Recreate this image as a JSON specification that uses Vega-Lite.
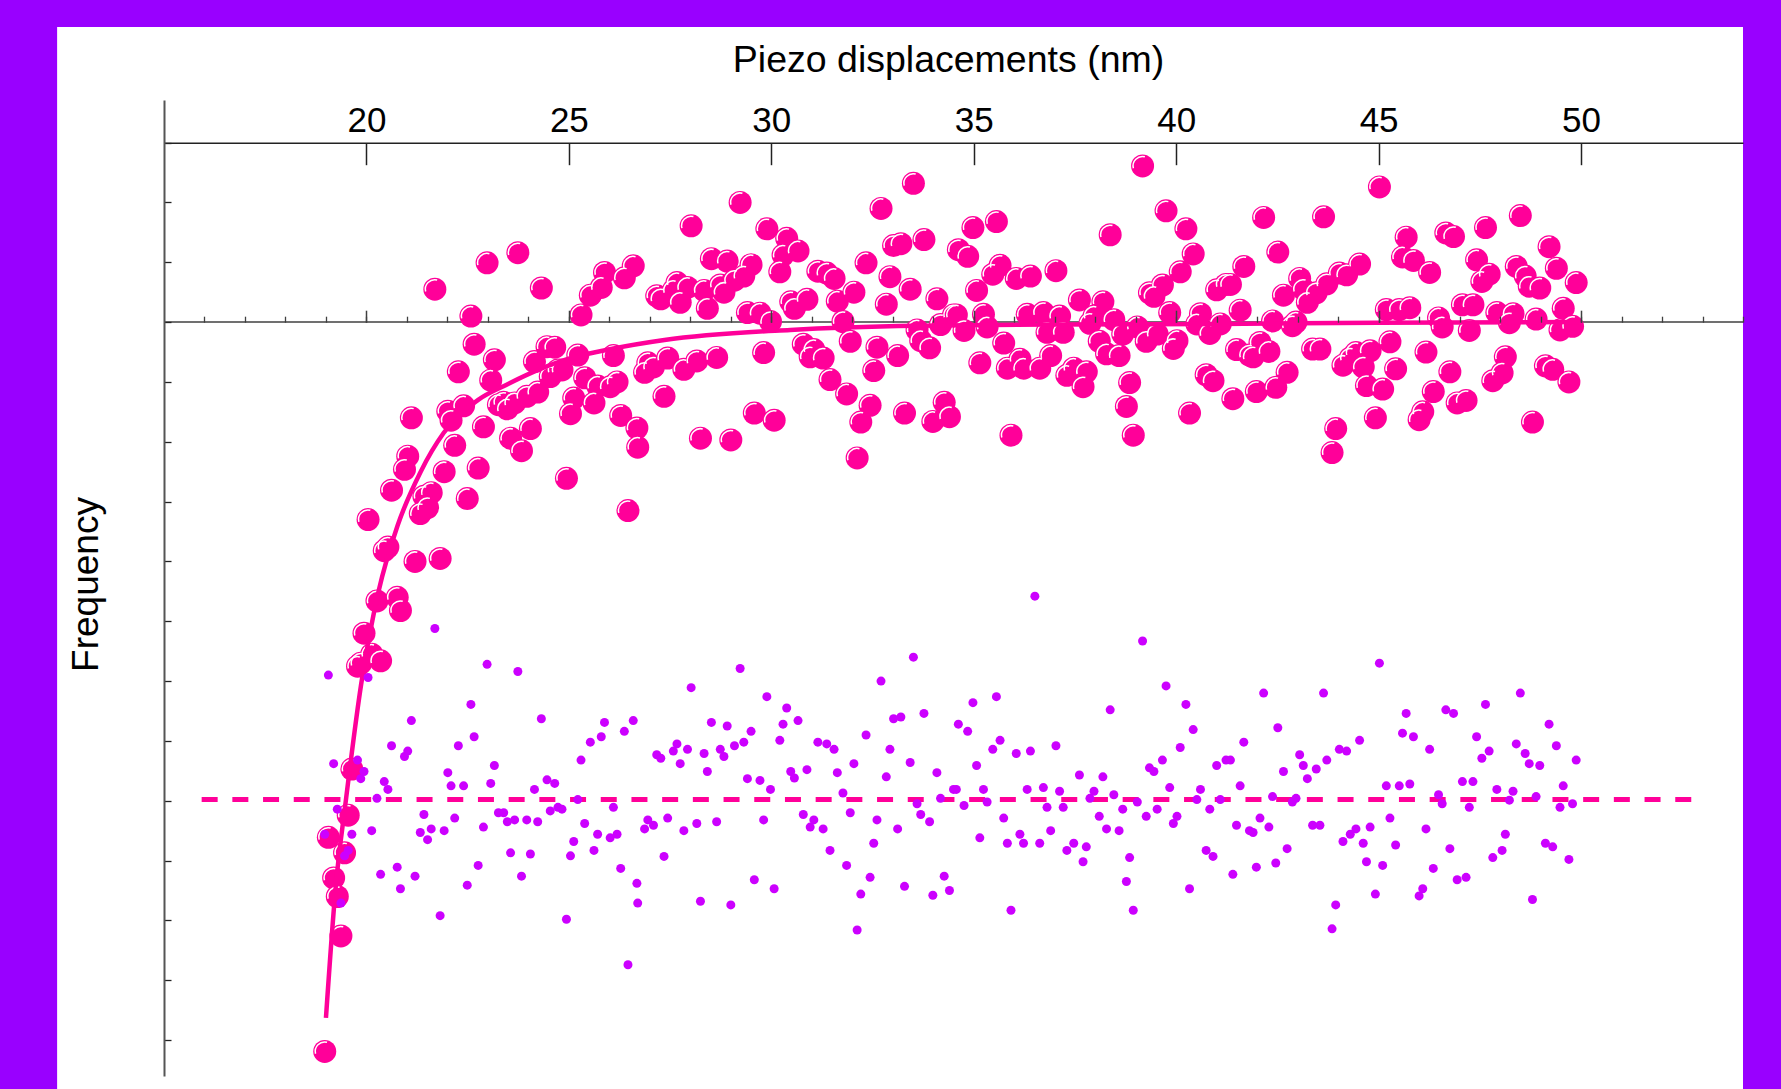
{
  "$schema": "https://vega.github.io/schema/vega-lite/v6.json",
  "width": 1579,
  "height": 976,
  "autosize": {"type": "none"},
  "padding": {"left": 164, "top": 100, "right": 38, "bottom": 13},
  "background": "#9900FF",
  "config": {"view": {"stroke": null}, "font": "Liberation Sans", "axis": {"grid": false}},
  "datasets": {
    "fit": [
      {"x":19.0,"y":-11.63},{"x":19.24,"y":-9.45},{"x":19.5,"y":-7.95},{"x":19.87,"y":-6.05},{"x":20.3,"y":-4.5},{"x":20.77,"y":-3.4},{"x":21.34,"y":-2.5},{"x":21.91,"y":-1.85},{"x":22.76,"y":-1.3},{"x":23.45,"y":-1.05},{"x":24.27,"y":-0.79},{"x":25.1,"y":-0.59},{"x":26.04,"y":-0.45},{"x":27.36,"y":-0.30},{"x":30.47,"y":-0.13},{"x":33.59,"y":-0.06},{"x":37,"y":-0.04},{"x":41,"y":-0.03},{"x":45,"y":-0.01},{"x":50,"y":0}
    ],
    "pts": [
      {"x":21.69,"y":0.55},{"x":22.98,"y":0.99},{"x":23.74,"y":1.16},{"x":19.06,"y":-8.61},{"x":20.04,"y":-3.3},{"x":22.58,"y":0.10},{"x":21.11,"y":-1.6},{"x":24.32,"y":0.57},{"x":25.88,"y":0.83},{"x":26.59,"y":0.94},{"x":26.37,"y":0.74},{"x":25.53,"y":0.45},{"x":25.80,"y":0.58},{"x":22.66,"y":-0.37},{"x":22.27,"y":-0.83},{"x":20.62,"y":-2.81},{"x":21.02,"y":-2.24},{"x":20.94,"y":-2.46},{"x":25.30,"y":0.12},{"x":19.19,"y":-9.29},{"x":19.78,"y":-5.75},{"x":19.94,"y":-5.2},{"x":19.86,"y":-5.7},{"x":23.16,"y":-0.63},{"x":22.01,"y":-1.49},{"x":22.09,"y":-1.64},{"x":22.40,"y":-1.40},{"x":23.07,"y":-0.97},{"x":20.44,"y":-3.82},{"x":20.53,"y":-3.76},{"x":24.46,"y":-0.41},{"x":24.65,"y":-0.42},{"x":24.15,"y":-0.66},{"x":20.26,"y":-4.66},{"x":25.22,"y":-0.55},{"x":19.28,"y":-9.6},{"x":26.10,"y":-0.56},{"x":21.42,"y":-2.91},{"x":23.26,"y":-1.38},{"x":23.39,"y":-1.34},{"x":23.48,"y":-1.45},{"x":23.66,"y":-1.35},{"x":23.96,"y":-1.24},{"x":24.23,"y":-1.17},{"x":24.54,"y":-0.91},{"x":24.73,"y":-0.80},{"x":24.83,"y":-0.80},{"x":22.18,"y":-2.06},{"x":22.89,"y":-1.75},{"x":25.39,"y":-0.93},{"x":25.71,"y":-1.07},{"x":26.02,"y":-1.08},{"x":26.19,"y":-1.00},{"x":25.12,"y":-1.27},{"x":25.04,"y":-1.53},{"x":25.62,"y":-1.35},{"x":21.33,"y":-3.2},{"x":21.60,"y":-2.85},{"x":21.51,"y":-3.1},{"x":21.92,"y":-2.5},{"x":20.13,"y":-5.55},{"x":19.64,"y":-7.47},{"x":18.97,"y":-12.19},{"x":19.55,"y":-8.24},{"x":19.46,"y":-8.87},{"x":23.56,"y":-1.94},{"x":24.05,"y":-1.78},{"x":22.76,"y":-2.44},{"x":20.35,"y":-5.66},{"x":20.76,"y":-4.6},{"x":21.20,"y":-4.0},{"x":20.84,"y":-4.82},{"x":22.49,"y":-2.95},{"x":23.83,"y":-2.15},{"x":26.28,"y":-1.56},{"x":26.68,"y":-1.77},{"x":19.37,"y":-10.26},{"x":21.82,"y":-3.95},{"x":24.94,"y":-2.61},{"x":26.46,"y":-3.15},{"x":26.70,"y":-2.09},
      {"x":29.23,"y":2.00},{"x":33.51,"y":2.32},{"x":28.02,"y":1.61},{"x":32.71,"y":1.90},{"x":29.89,"y":1.56},{"x":30.38,"y":1.40},{"x":33.77,"y":1.38},{"x":33.02,"y":1.28},{"x":33.20,"y":1.31},{"x":28.52,"y":1.06},{"x":28.91,"y":1.02},{"x":30.29,"y":1.12},{"x":30.66,"y":1.19},{"x":34.62,"y":1.21},{"x":29.50,"y":0.96},{"x":29.32,"y":0.77},{"x":29.09,"y":0.70},{"x":32.34,"y":0.99},{"x":30.21,"y":0.84},{"x":31.15,"y":0.85},{"x":31.37,"y":0.82},{"x":31.55,"y":0.73},{"x":32.93,"y":0.76},{"x":27.17,"y":0.44},{"x":27.27,"y":0.39},{"x":27.58,"y":0.53},{"x":27.67,"y":0.66},{"x":27.93,"y":0.58},{"x":27.75,"y":0.33},{"x":28.34,"y":0.53},{"x":28.74,"y":0.62},{"x":28.83,"y":0.50},{"x":28.42,"y":0.23},{"x":32.04,"y":0.50},{"x":33.43,"y":0.55},{"x":31.63,"y":0.35},{"x":32.84,"y":0.30},{"x":34.09,"y":0.39},{"x":30.48,"y":0.34},{"x":30.57,"y":0.23},{"x":30.88,"y":0.38},{"x":29.41,"y":0.16},{"x":29.72,"y":0.15},{"x":29.98,"y":0.01},{"x":31.77,"y":0.01},{"x":34.18,"y":-0.04},{"x":33.60,"y":-0.13},{"x":26.95,"y":-0.68},{"x":26.87,"y":-0.84},{"x":27.09,"y":-0.75},{"x":27.44,"y":-0.60},{"x":27.84,"y":-0.79},{"x":28.16,"y":-0.65},{"x":28.65,"y":-0.59},{"x":29.81,"y":-0.51},{"x":30.79,"y":-0.37},{"x":31.05,"y":-0.46},{"x":30.96,"y":-0.58},{"x":31.28,"y":-0.60},{"x":31.95,"y":-0.32},{"x":32.61,"y":-0.42},{"x":33.69,"y":-0.31},{"x":33.91,"y":-0.43},{"x":33.12,"y":-0.56},{"x":31.45,"y":-0.96},{"x":32.53,"y":-0.81},{"x":27.35,"y":-1.24},{"x":31.86,"y":-1.20},{"x":32.44,"y":-1.39},{"x":29.58,"y":-1.52},{"x":30.07,"y":-1.64},{"x":32.21,"y":-1.67},{"x":33.29,"y":-1.52},{"x":34.27,"y":-1.34},{"x":34.40,"y":-1.58},{"x":33.99,"y":-1.66},{"x":28.25,"y":-1.94},{"x":29.00,"y":-1.97},{"x":32.12,"y":-2.27},
      {"x":39.17,"y":2.61},{"x":39.75,"y":1.86},{"x":42.16,"y":1.75},{"x":40.24,"y":1.56},{"x":34.98,"y":1.58},{"x":35.56,"y":1.68},{"x":38.37,"y":1.46},{"x":40.42,"y":1.14},{"x":34.85,"y":1.10},{"x":42.51,"y":1.17},{"x":35.65,"y":0.95},{"x":35.47,"y":0.80},{"x":36.05,"y":0.73},{"x":36.40,"y":0.77},{"x":37.03,"y":0.86},{"x":41.67,"y":0.93},{"x":40.10,"y":0.84},{"x":39.66,"y":0.62},{"x":39.34,"y":0.49},{"x":39.45,"y":0.43},{"x":35.07,"y":0.53},{"x":41.00,"y":0.54},{"x":41.23,"y":0.63},{"x":41.34,"y":0.63},{"x":37.61,"y":0.37},{"x":38.19,"y":0.34},{"x":35.24,"y":0.13},{"x":36.32,"y":0.13},{"x":36.72,"y":0.16},{"x":37.12,"y":0.10},{"x":37.97,"y":0.10},{"x":38.46,"y":0.04},{"x":39.84,"y":0.16},{"x":40.60,"y":0.14},{"x":41.58,"y":0.20},{"x":42.38,"y":0.02},{"x":34.76,"y":-0.14},{"x":35.33,"y":-0.08},{"x":36.81,"y":-0.17},{"x":37.21,"y":-0.17},{"x":37.87,"y":-0.02},{"x":38.68,"y":-0.20},{"x":39.04,"y":-0.08},{"x":39.26,"y":-0.32},{"x":39.53,"y":-0.20},{"x":40.02,"y":-0.31},{"x":39.93,"y":-0.44},{"x":40.51,"y":-0.03},{"x":40.83,"y":-0.19},{"x":41.09,"y":-0.03},{"x":35.74,"y":-0.35},{"x":38.10,"y":-0.32},{"x":38.28,"y":-0.53},{"x":38.59,"y":-0.56},{"x":36.90,"y":-0.56},{"x":36.14,"y":-0.62},{"x":36.23,"y":-0.77},{"x":35.83,"y":-0.77},{"x":36.63,"y":-0.77},{"x":35.15,"y":-0.68},{"x":37.30,"y":-0.89},{"x":37.47,"y":-0.77},{"x":37.78,"y":-0.83},{"x":37.70,"y":-1.08},{"x":38.85,"y":-1.01},{"x":38.77,"y":-1.41},{"x":38.94,"y":-1.89},{"x":35.92,"y":-1.89},{"x":41.49,"y":-0.46},{"x":41.81,"y":-0.55},{"x":41.90,"y":-0.58},{"x":42.07,"y":-0.34},{"x":42.29,"y":-0.49},{"x":40.74,"y":-0.88},{"x":40.91,"y":-0.98},{"x":41.40,"y":-1.28},{"x":41.98,"y":-1.16},{"x":42.46,"y":-1.09},{"x":40.33,"y":-1.52},{"x":34.50,"y":0.12},{"x":34.57,"y":0.12},
      {"x":45.02,"y":2.26},{"x":43.64,"y":1.76},{"x":48.50,"y":1.78},{"x":47.64,"y":1.58},{"x":46.66,"y":1.49},{"x":46.85,"y":1.43},{"x":45.68,"y":1.42},{"x":49.21,"y":1.26},{"x":45.59,"y":1.09},{"x":45.86,"y":1.03},{"x":47.42,"y":1.04},{"x":44.53,"y":0.97},{"x":48.40,"y":0.93},{"x":49.39,"y":0.90},{"x":44.03,"y":0.82},{"x":44.21,"y":0.79},{"x":46.26,"y":0.83},{"x":47.73,"y":0.80},{"x":48.62,"y":0.77},{"x":43.05,"y":0.73},{"x":43.72,"y":0.64},{"x":47.55,"y":0.68},{"x":48.72,"y":0.60},{"x":48.98,"y":0.57},{"x":49.88,"y":0.66},{"x":43.14,"y":0.55},{"x":43.46,"y":0.49},{"x":42.65,"y":0.45},{"x":43.24,"y":0.33},{"x":45.19,"y":0.21},{"x":45.51,"y":0.21},{"x":45.77,"y":0.24},{"x":47.07,"y":0.29},{"x":47.33,"y":0.29},{"x":47.92,"y":0.16},{"x":48.32,"y":0.14},{"x":49.56,"y":0.23},{"x":42.96,"y":0.00},{"x":42.87,"y":-0.06},{"x":46.48,"y":0.07},{"x":46.57,"y":-0.08},{"x":47.24,"y":-0.14},{"x":48.23,"y":-0.01},{"x":48.89,"y":0.05},{"x":49.48,"y":-0.13},{"x":49.79,"y":-0.07},{"x":43.37,"y":-0.45},{"x":43.55,"y":-0.45},{"x":45.28,"y":-0.33},{"x":44.44,"y":-0.51},{"x":44.79,"y":-0.48},{"x":44.30,"y":-0.60},{"x":44.12,"y":-0.72},{"x":44.62,"y":-0.75},{"x":45.42,"y":-0.78},{"x":46.17,"y":-0.50},{"x":42.74,"y":-0.84},{"x":44.70,"y":-1.06},{"x":45.10,"y":-1.12},{"x":46.76,"y":-0.83},{"x":46.35,"y":-1.16},{"x":48.13,"y":-0.58},{"x":48.05,"y":-0.85},{"x":47.82,"y":-0.98},{"x":49.12,"y":-0.73},{"x":49.30,"y":-0.79},{"x":49.70,"y":-1.00},{"x":46.94,"y":-1.35},{"x":47.16,"y":-1.31},{"x":46.09,"y":-1.50},{"x":46.00,"y":-1.63},{"x":44.92,"y":-1.60},{"x":43.94,"y":-1.78},{"x":43.85,"y":-2.18},{"x":48.80,"y":-1.67}
    ],
    "res": [
      {"x":21.69,"y":-5.12},{"x":22.98,"y":-5.72},{"x":23.74,"y":-5.84},{"x":19.06,"y":-5.90},{"x":20.04,"y":-5.94},{"x":22.58,"y":-6.39},{"x":21.11,"y":-6.66},{"x":24.32,"y":-6.63},{"x":25.88,"y":-6.69},{"x":26.59,"y":-6.66},{"x":26.37,"y":-6.84},{"x":25.53,"y":-7.02},{"x":25.80,"y":-6.93},{"x":22.66,"y":-6.93},{"x":22.27,"y":-7.08},{"x":20.62,"y":-7.08},{"x":21.02,"y":-7.17},{"x":20.94,"y":-7.26},{"x":25.30,"y":-7.32},{"x":19.19,"y":-7.38},{"x":19.78,"y":-7.32},{"x":19.94,"y":-7.51},{"x":19.86,"y":-7.63},{"x":23.16,"y":-7.41},{"x":22.01,"y":-7.53},{"x":22.09,"y":-7.75},{"x":22.40,"y":-7.75},{"x":23.07,"y":-7.71},{"x":20.44,"y":-7.68},{"x":20.53,"y":-7.81},{"x":24.46,"y":-7.65},{"x":24.65,"y":-7.71},{"x":24.15,"y":-7.81},{"x":20.26,"y":-7.96},{"x":25.22,"y":-7.98},{"x":19.28,"y":-8.14},{"x":26.10,"y":-8.11},{"x":21.42,"y":-8.23},{"x":23.26,"y":-8.20},{"x":23.39,"y":-8.20},{"x":23.48,"y":-8.35},{"x":23.66,"y":-8.32},{"x":23.96,"y":-8.32},{"x":24.23,"y":-8.35},{"x":24.54,"y":-8.17},{"x":24.73,"y":-8.11},{"x":24.83,"y":-8.14},{"x":22.18,"y":-8.29},{"x":22.89,"y":-8.44},{"x":25.39,"y":-8.38},{"x":25.71,"y":-8.56},{"x":26.02,"y":-8.62},{"x":26.19,"y":-8.56},{"x":25.12,"y":-8.68},{"x":25.04,"y":-8.92},{"x":25.62,"y":-8.83},{"x":21.33,"y":-8.53},{"x":21.60,"y":-8.47},{"x":21.51,"y":-8.65},{"x":21.92,"y":-8.50},{"x":20.13,"y":-8.50},{"x":19.64,"y":-8.56},{"x":18.97,"y":-8.56},{"x":19.55,"y":-8.83},{"x":19.46,"y":-8.92},{"x":23.56,"y":-8.87},{"x":24.05,"y":-8.89},{"x":22.76,"y":-9.08},{"x":20.35,"y":-9.23},{"x":20.76,"y":-9.11},{"x":21.20,"y":-9.26},{"x":20.84,"y":-9.47},{"x":22.49,"y":-9.41},{"x":23.83,"y":-9.26},{"x":26.28,"y":-9.13},{"x":26.68,"y":-9.38},{"x":19.37,"y":-9.71},{"x":21.82,"y":-9.92},{"x":24.94,"y":-9.98},{"x":26.46,"y":-10.74},{"x":26.70,"y":-9.71},
      {"x":29.23,"y":-5.79},{"x":33.51,"y":-5.60},{"x":28.02,"y":-6.11},{"x":32.71,"y":-6.00},{"x":29.89,"y":-6.26},{"x":30.38,"y":-6.45},{"x":33.77,"y":-6.54},{"x":33.02,"y":-6.63},{"x":33.20,"y":-6.60},{"x":28.52,"y":-6.69},{"x":28.91,"y":-6.75},{"x":30.29,"y":-6.72},{"x":30.66,"y":-6.66},{"x":34.62,"y":-6.72},{"x":29.50,"y":-6.84},{"x":29.32,"y":-7.02},{"x":29.09,"y":-7.08},{"x":32.34,"y":-6.90},{"x":30.21,"y":-6.99},{"x":31.15,"y":-7.02},{"x":31.37,"y":-7.05},{"x":31.55,"y":-7.14},{"x":32.93,"y":-7.14},{"x":27.17,"y":-7.23},{"x":27.27,"y":-7.29},{"x":27.58,"y":-7.17},{"x":27.67,"y":-7.05},{"x":27.93,"y":-7.14},{"x":27.75,"y":-7.38},{"x":28.34,"y":-7.21},{"x":28.74,"y":-7.14},{"x":28.83,"y":-7.26},{"x":28.42,"y":-7.51},{"x":32.04,"y":-7.38},{"x":33.43,"y":-7.36},{"x":31.63,"y":-7.53},{"x":32.84,"y":-7.60},{"x":34.09,"y":-7.53},{"x":30.48,"y":-7.51},{"x":30.57,"y":-7.62},{"x":30.88,"y":-7.48},{"x":29.41,"y":-7.63},{"x":29.72,"y":-7.66},{"x":29.98,"y":-7.81},{"x":31.77,"y":-7.87},{"x":34.18,"y":-7.96},{"x":33.60,"y":-8.05},{"x":26.95,"y":-8.32},{"x":26.87,"y":-8.47},{"x":27.09,"y":-8.41},{"x":27.44,"y":-8.29},{"x":27.84,"y":-8.50},{"x":28.16,"y":-8.38},{"x":28.65,"y":-8.35},{"x":29.81,"y":-8.32},{"x":30.79,"y":-8.23},{"x":31.05,"y":-8.32},{"x":30.96,"y":-8.44},{"x":31.28,"y":-8.47},{"x":31.95,"y":-8.20},{"x":32.61,"y":-8.32},{"x":33.69,"y":-8.23},{"x":33.91,"y":-8.35},{"x":33.12,"y":-8.47},{"x":31.45,"y":-8.83},{"x":32.53,"y":-8.71},{"x":27.35,"y":-8.93},{"x":31.86,"y":-9.08},{"x":32.44,"y":-9.28},{"x":29.58,"y":-9.32},{"x":30.07,"y":-9.47},{"x":32.21,"y":-9.56},{"x":33.29,"y":-9.43},{"x":34.27,"y":-9.26},{"x":34.40,"y":-9.50},{"x":33.99,"y":-9.58},{"x":28.25,"y":-9.68},{"x":29.00,"y":-9.74},{"x":32.12,"y":-10.16},
      {"x":39.17,"y":-5.33},{"x":39.75,"y":-6.08},{"x":42.16,"y":-6.20},{"x":40.24,"y":-6.39},{"x":34.98,"y":-6.36},{"x":35.56,"y":-6.26},{"x":38.37,"y":-6.48},{"x":40.42,"y":-6.81},{"x":34.85,"y":-6.84},{"x":42.51,"y":-6.78},{"x":35.65,"y":-6.99},{"x":35.47,"y":-7.14},{"x":36.05,"y":-7.21},{"x":36.40,"y":-7.17},{"x":37.03,"y":-7.08},{"x":41.67,"y":-7.02},{"x":40.10,"y":-7.11},{"x":39.66,"y":-7.32},{"x":39.34,"y":-7.45},{"x":39.45,"y":-7.51},{"x":35.07,"y":-7.41},{"x":41.00,"y":-7.41},{"x":41.23,"y":-7.32},{"x":41.34,"y":-7.32},{"x":37.61,"y":-7.57},{"x":38.19,"y":-7.60},{"x":35.24,"y":-7.81},{"x":36.32,"y":-7.81},{"x":36.72,"y":-7.78},{"x":37.12,"y":-7.84},{"x":37.97,"y":-7.84},{"x":38.46,"y":-7.90},{"x":39.84,"y":-7.78},{"x":40.60,"y":-7.81},{"x":41.58,"y":-7.75},{"x":42.38,"y":-7.93},{"x":34.76,"y":-8.08},{"x":35.33,"y":-8.02},{"x":36.81,"y":-8.11},{"x":37.21,"y":-8.11},{"x":37.87,"y":-7.96},{"x":38.68,"y":-8.14},{"x":39.04,"y":-8.02},{"x":39.26,"y":-8.26},{"x":39.53,"y":-8.14},{"x":40.02,"y":-8.26},{"x":39.93,"y":-8.38},{"x":40.51,"y":-7.98},{"x":40.83,"y":-8.14},{"x":41.09,"y":-7.98},{"x":35.74,"y":-8.29},{"x":38.10,"y":-8.26},{"x":38.28,"y":-8.47},{"x":38.59,"y":-8.50},{"x":36.90,"y":-8.50},{"x":36.14,"y":-8.56},{"x":36.23,"y":-8.71},{"x":35.83,"y":-8.71},{"x":36.63,"y":-8.71},{"x":35.15,"y":-8.62},{"x":37.30,"y":-8.83},{"x":37.47,"y":-8.71},{"x":37.78,"y":-8.77},{"x":37.70,"y":-9.02},{"x":38.85,"y":-8.95},{"x":38.77,"y":-9.35},{"x":38.94,"y":-9.83},{"x":35.92,"y":-9.83},{"x":41.49,"y":-8.41},{"x":41.81,"y":-8.50},{"x":41.90,"y":-8.53},{"x":42.07,"y":-8.29},{"x":42.29,"y":-8.44},{"x":40.74,"y":-8.83},{"x":40.91,"y":-8.93},{"x":41.40,"y":-9.23},{"x":41.98,"y":-9.11},{"x":42.46,"y":-9.04},{"x":40.33,"y":-9.47},{"x":34.50,"y":-7.81},{"x":34.57,"y":-7.81},{"x":36.51,"y":-4.58},
      {"x":45.02,"y":-5.70},{"x":43.64,"y":-6.20},{"x":48.50,"y":-6.20},{"x":47.64,"y":-6.39},{"x":46.66,"y":-6.48},{"x":46.85,"y":-6.54},{"x":45.68,"y":-6.54},{"x":49.21,"y":-6.72},{"x":45.59,"y":-6.87},{"x":45.86,"y":-6.93},{"x":47.42,"y":-6.93},{"x":44.53,"y":-6.99},{"x":48.40,"y":-7.05},{"x":49.39,"y":-7.08},{"x":44.03,"y":-7.14},{"x":44.21,"y":-7.17},{"x":46.26,"y":-7.14},{"x":47.73,"y":-7.17},{"x":48.62,"y":-7.21},{"x":43.05,"y":-7.23},{"x":43.72,"y":-7.32},{"x":47.55,"y":-7.29},{"x":48.72,"y":-7.38},{"x":48.98,"y":-7.41},{"x":49.88,"y":-7.32},{"x":43.14,"y":-7.41},{"x":43.46,"y":-7.47},{"x":42.65,"y":-7.51},{"x":43.24,"y":-7.63},{"x":45.19,"y":-7.75},{"x":45.51,"y":-7.75},{"x":45.77,"y":-7.72},{"x":47.07,"y":-7.68},{"x":47.33,"y":-7.68},{"x":47.92,"y":-7.81},{"x":48.32,"y":-7.84},{"x":49.56,"y":-7.75},{"x":42.96,"y":-7.96},{"x":42.87,"y":-8.02},{"x":46.48,"y":-7.90},{"x":46.57,"y":-8.05},{"x":47.24,"y":-8.11},{"x":48.23,"y":-7.99},{"x":48.89,"y":-7.93},{"x":49.48,"y":-8.11},{"x":49.79,"y":-8.05},{"x":43.37,"y":-8.41},{"x":43.55,"y":-8.41},{"x":45.28,"y":-8.29},{"x":44.44,"y":-8.47},{"x":44.79,"y":-8.44},{"x":44.30,"y":-8.56},{"x":44.12,"y":-8.68},{"x":44.62,"y":-8.71},{"x":45.42,"y":-8.74},{"x":46.17,"y":-8.47},{"x":42.74,"y":-8.80},{"x":44.70,"y":-9.02},{"x":45.10,"y":-9.08},{"x":46.76,"y":-8.80},{"x":46.35,"y":-9.13},{"x":48.13,"y":-8.56},{"x":48.05,"y":-8.83},{"x":47.82,"y":-8.95},{"x":49.12,"y":-8.71},{"x":49.30,"y":-8.77},{"x":49.70,"y":-8.98},{"x":46.94,"y":-9.32},{"x":47.16,"y":-9.28},{"x":46.09,"y":-9.47},{"x":46.00,"y":-9.59},{"x":44.92,"y":-9.56},{"x":43.94,"y":-9.74},{"x":43.85,"y":-10.14},{"x":48.80,"y":-9.65}
    ]
  },
  "resolve": {"axis": {"x": "independent", "y": "independent"}},
  "layer": [
    {
      "data": {"values": [{}]},
      "mark": {"type": "rect", "color": "white", "clip": false},
      "encoding": {
        "x": {"datum": 12.36, "type": "quantitative", "scale": {"domain": [15, 54], "nice": false, "zero": false}, "axis": null},
        "x2": {"datum": 54},
        "y": {"datum": 4.932, "type": "quantitative", "scale": {"domain": [-12.6, 3.712], "nice": false, "zero": false}, "axis": null},
        "y2": {"datum": -12.82}
      }
    },
    {
      "data": {"values": [{}]},
      "mark": {"type": "rule", "color": "#404040", "strokeWidth": 1.5},
      "encoding": {
        "x": {"datum": 15, "type": "quantitative", "axis": null},
        "x2": {"datum": 54},
        "y": {"datum": 0, "type": "quantitative", "axis": null}
      }
    },
    {
      "data": {"values": [{}]},
      "mark": {"type": "rule", "color": "#FF0099", "strokeWidth": 5, "strokeDash": [16, 14.7]},
      "encoding": {
        "x": {"datum": 15.93, "type": "quantitative", "axis": null},
        "x2": {"datum": 52.93},
        "y": {"datum": -7.98, "type": "quantitative", "axis": null}
      }
    },
    {
      "data": {"name": "pts"},
      "mark": {"type": "point", "filled": true, "size": 529, "color": "#FF0099", "opacity": 1},
      "encoding": {
        "x": {"field": "x", "type": "quantitative", "axis": {"orient": "top", "offset": -222.2, "values": [16,17,18,19,20,21,22,23,24,25,26,27,28,29,30,31,32,33,34,35,36,37,38,39,40,41,42,43,44,45,46,47,48,49,50,51,52,53,54], "tickSize": 6, "tickColor": "#404040", "tickWidth": 1.3, "labels": false, "domain": false, "title": null, "grid": false, "zindex": 1}},
        "y": {"field": "y", "type": "quantitative", "axis": null}
      }
    },
    {
      "data": {"name": "pts"},
      "mark": {"type": "point", "filled": false, "size": 529, "color": "white", "strokeWidth": 1.5, "opacity": 1, "shape": "M -0.8 0.2 A 0.82 0.82 0 0 1 0.2 -0.8"},
      "encoding": {
        "x": {"field": "x", "type": "quantitative", "axis": null},
        "y": {"field": "y", "type": "quantitative", "axis": null}
      }
    },
    {
      "data": {"name": "fit"},
      "mark": {"type": "line", "color": "#FF0099", "strokeWidth": 4.5, "interpolate": "monotone"},
      "encoding": {
        "x": {"field": "x", "type": "quantitative", "axis": {"orient": "top", "offset": -42.7, "values": [20, 25, 30, 35, 40, 45, 50], "tickSize": -22, "tickColor": "#222222", "tickWidth": 1.5, "domainColor": "#222222", "domainWidth": 1.5, "labelPadding": 26, "labelFontSize": 35, "labelFont": "Liberation Sans", "labelColor": "black", "labelFlush": false, "labelOverlap": false, "title": "Piezo displacements (nm)", "titleFont": "Liberation Sans", "titleFontSize": 37.5, "titleFontWeight": "normal", "titleColor": "black", "titleX": 784, "titleY": -71, "titleBaseline": "alphabetic", "titleAlign": "center", "grid": false, "zindex": 1}},
        "y": {"field": "y", "type": "quantitative", "axis": {"orient": "left", "values": [3, 2, 1, 0, -1, -2, -3, -4, -5, -6, -7, -8, -9, -10, -11, -12], "tickSize": -7, "tickColor": "#222222", "tickWidth": 1.3, "domainColor": "#555555", "domainWidth": 2, "labels": false, "title": "Frequency", "titleFont": "Liberation Sans", "titleFontSize": 37, "titleFontWeight": "normal", "titleColor": "black", "titleX": -78, "titleY": 484, "titleAngle": -90, "titleBaseline": "middle", "titleAlign": "center", "grid": false, "zindex": 1}}
      }
    },
    {
      "data": {"name": "res"},
      "mark": {"type": "point", "filled": true, "size": 81, "color": "#CC00FF", "opacity": 1},
      "encoding": {
        "x": {"field": "x", "type": "quantitative", "axis": {"orient": "top", "offset": -222.2, "values": [20, 25, 30, 35, 40, 45, 50], "tickSize": 12, "tickColor": "#404040", "tickWidth": 1.5, "labels": false, "domain": false, "title": null, "grid": false, "zindex": 1}},
        "y": {"field": "y", "type": "quantitative", "axis": null}
      }
    }
  ]
}
